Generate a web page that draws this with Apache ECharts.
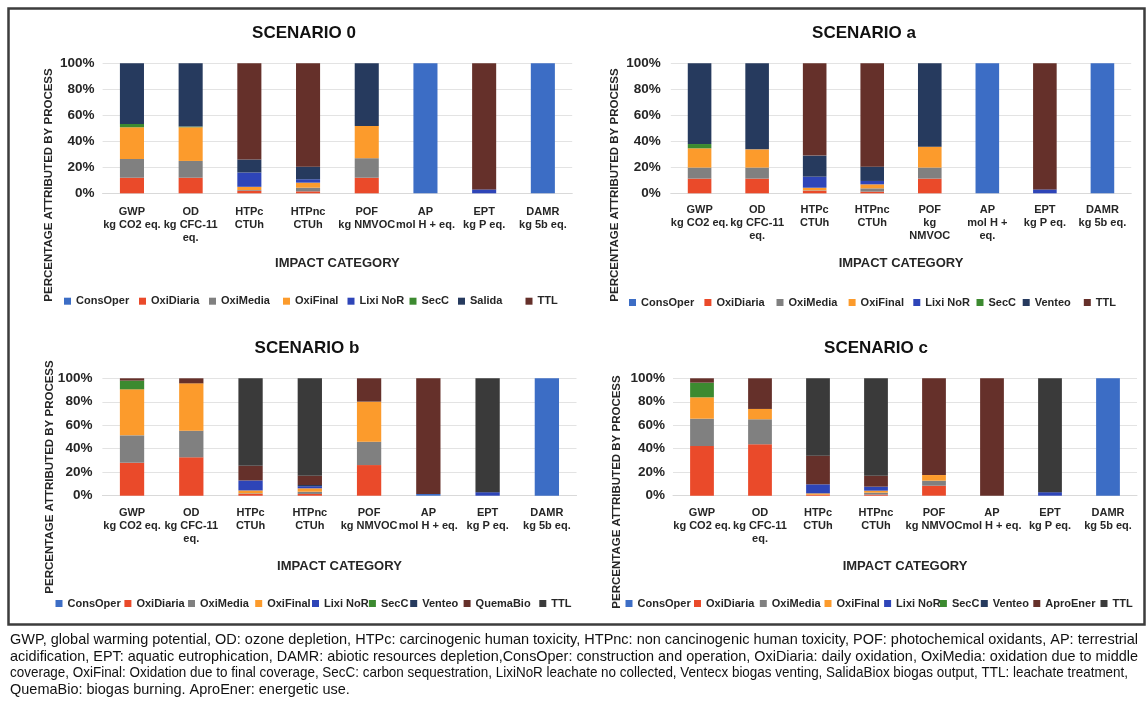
<!DOCTYPE html>
<html>
<head>
<meta charset="utf-8">
<script src="https://cdn.jsdelivr.net/npm/echarts@6.0.0/dist/echarts.min.js"></script>
<style>
  html, body { margin: 0; padding: 0; background: #ffffff; width: 1147px; height: 701px; overflow: hidden; }
  .layer { position: absolute; left: 0; top: 0; width: 1147px; height: 701px; }
</style>
</head>
<body>
<div id="chart0" class="layer"></div>
<div id="chartA" class="layer"></div>
<div id="chartB" class="layer"></div>
<div id="chartC" class="layer"></div>
<script>
// ---- Impact categories (x axis) ----
const CATEGORIES = ['GWP\nkg CO2 eq.', 'OD\nkg CFC-11\neq.', 'HTPc\nCTUh', 'HTPnc\nCTUh',
                    'POF\nkg NMVOC', 'AP\nmol H + eq.', 'EPT\nkg P eq.', 'DAMR\nkg 5b eq.'];
const CATEGORIES_WRAPPED = ['GWP\nkg CO2 eq.', 'OD\nkg CFC-11\neq.', 'HTPc\nCTUh', 'HTPnc\nCTUh',
                            'POF\nkg\nNMVOC', 'AP\nmol H +\neq.', 'EPT\nkg P eq.', 'DAMR\nkg 5b eq.'];
const Y_TICK_STEP = 20;

// ---- Scenario 0: share (%) attributed to each process, per category ----
const S0_CONSOPER  = [0, 0, 0, 0, 0, 100, 0, 100];
const S0_OXIDIARIA = [12, 12, 2, 1.5, 12, 0, 0, 0];
const S0_OXIMEDIA  = [14.4, 12.9, 0.5, 2.8, 15, 0, 0, 0];
const S0_OXIFINAL  = [24.4, 25.9, 2.5, 3.9, 24.8, 0, 0, 0];
const S0_LIXINOR   = [0, 0, 11, 2.6, 0, 0, 3, 0];
const S0_SECC      = [2.5, 0.5, 0, 0, 0, 0, 0, 0];
const S0_SALIDA    = [46.7, 48.7, 10, 9.7, 48.2, 0, 0, 0];
const S0_TTL       = [0, 0, 74, 79.5, 0, 0, 97, 0];

// ---- Scenario a ----
const SA_CONSOPER  = [0, 0, 0, 0, 0, 100, 0, 100];
const SA_OXIDIARIA = [11.3, 11.3, 2, 1.3, 11.3, 0, 0, 0];
const SA_OXIMEDIA  = [8.5, 8.5, 0.3, 2.5, 8.5, 0, 0, 0];
const SA_OXIFINAL  = [14.8, 14, 2, 3.1, 16.1, 0, 0, 0];
const SA_LIXINOR   = [0, 0, 8.5, 2.6, 0, 0, 3, 0];
const SA_SECC      = [3.3, 0, 0, 0, 0, 0, 0, 0];
const SA_VENTEO    = [62.1, 66.2, 16.2, 11, 64.1, 0, 0, 0];
const SA_TTL       = [0, 0, 71, 79.5, 0, 0, 97, 0];

// ---- Scenario b ----
const SB_CONSOPER  = [0, 0, 0, 0, 0, 1.5, 0, 100];
const SB_OXIDIARIA = [28.1, 32.7, 1.5, 1.5, 26.1, 0, 0, 0];
const SB_OXIMEDIA  = [23.3, 22.7, 0.5, 1.9, 19.9, 0, 0, 0];
const SB_OXIFINAL  = [39.2, 40.3, 2.5, 2.9, 34.1, 0, 0, 0];
const SB_LIXINOR   = [0, 0, 8.5, 1.8, 0, 0, 3, 0];
const SB_SECC      = [7.4, 0, 0, 0, 0, 0, 0, 0];
const SB_VENTEO    = [0, 0, 0, 1, 0, 0, 0, 0];
const SB_QUEMABIO  = [2, 4.3, 12.5, 7.9, 19.9, 98.5, 0, 0];
const SB_TTL       = [0, 0, 74.5, 83, 0, 0, 97, 0];

// ---- Scenario c ----
const SC_CONSOPER  = [0, 0, 0, 0, 0, 0, 0, 100];
const SC_OXIDIARIA = [42.3, 43.8, 0.8, 1, 8.5, 0, 0, 0];
const SC_OXIMEDIA  = [23.3, 21.3, 0, 1.6, 4.3, 0, 0, 0];
const SC_OXIFINAL  = [18.2, 8.8, 1.2, 1.7, 4.8, 0, 0, 0];
const SC_LIXINOR   = [0, 0, 7.7, 3.4, 0, 0, 3, 0];
const SC_SECC      = [12.5, 0, 0, 0, 0, 0, 0, 0];
const SC_VENTEO    = [0, 0, 0, 0, 0, 0, 0, 0];
const SC_APROENER  = [3.7, 26.1, 24.4, 9.3, 82.4, 100, 0, 0];
const SC_TTL       = [0, 0, 65.9, 83, 0, 0, 97, 0];

// ---- Caption under the figure ----
const CAPTION_LINES = [
  'GWP, global warming potential, OD: ozone depletion, HTPc: carcinogenic human toxicity, HTPnc: non cancinogenic human toxicity, POF: photochemical oxidants, AP: terrestrial',
  'acidification, EPT: aquatic eutrophication, DAMR: abiotic resources depletion,ConsOper: construction and operation, OxiDiaria: daily oxidation, OxiMedia: oxidation due to middle',
  'coverage, OxiFinal: Oxidation due to final coverage, SecC: carbon sequestration, LixiNoR leachate no collected, Ventecx biogas venting, SalidaBiox biogas output, TTL: leachate treatment,',
  'QuemaBio: biogas burning. AproEner: energetic use.'
];

// ---- Styling ----
const FONT = "'Liberation Sans', Arial, sans-serif";
const TEXT = '#262626';
const C = {
  consOper: '#3C6DC5', oxiDiaria: '#EA4A2A', oxiMedia: '#808080', oxiFinal: '#FC9B2C',
  lixi: '#2E45B8', secC: '#3C8A30', navy: '#263A5E', brown: '#65302A', dark: '#3A3A3A'
};

function series(name, data, color) {
  return {
    name: name, type: 'bar', stack: 'total', data: data, barWidth: '41%',
    itemStyle: { color: color }, emphasis: { disabled: true }, silent: true
  };
}

function panel(dom, p) {
  const chart = echarts.init(document.getElementById(dom), null, { renderer: 'canvas' });
  const legends = p.series.map(function (s, i) {
    return {
      left: p.legendX[i], top: p.legendY - 7, padding: 0, itemGap: 0,
      itemWidth: 7, itemHeight: 7, icon: 'rect', selectedMode: false,
      data: [s.name],
      textStyle: { fontFamily: FONT, fontSize: 11, fontWeight: 'bold', color: TEXT }
    };
  });
  const graphic = [
    { type: 'text', x: p.titleX, y: p.titleY, silent: true,
      style: { text: p.title, fontFamily: FONT, fontSize: 17, fontWeight: 'bold', fill: '#111',
               align: 'center', verticalAlign: 'middle' } },
    { type: 'text', x: p.yNameX, y: p.yNameY, rotation: Math.PI / 2, silent: true,
      style: { text: 'PERCENTAGE ATTRIBUTED BY PROCESS', fontFamily: FONT, fontSize: 11.5,
               fontWeight: 'bold', fill: TEXT, align: 'center', verticalAlign: 'middle' } }
  ].concat(p.extraGraphic || []);

  chart.setOption({
    animation: false,
    grid: { left: p.grid[0], top: p.grid[1], width: p.grid[2], height: p.grid[3], containLabel: false },
    xAxis: {
      type: 'category', data: p.categories,
      axisTick: { show: false },
      axisLine: { lineStyle: { color: '#d9d9d9', width: 1 } },
      axisLabel: { interval: 0, fontFamily: FONT, fontSize: 11, fontWeight: 'bold', color: TEXT,
                   lineHeight: 13, margin: p.xLabelMargin, hideOverlap: false },
      name: 'IMPACT CATEGORY', nameLocation: 'middle', nameGap: 64,
      nameTextStyle: { fontFamily: FONT, fontSize: 13, fontWeight: 'bold', color: TEXT }
    },
    yAxis: {
      type: 'value', min: 0, max: 100, interval: Y_TICK_STEP,
      axisLine: { show: false }, axisTick: { show: false },
      splitLine: { lineStyle: { color: '#e3e3e3', width: 1 } },
      axisLabel: { formatter: '{value}%', fontFamily: FONT, fontSize: 13.5, fontWeight: 'bold',
                   color: TEXT, margin: p.yLabelMargin }
    },
    legend: legends,
    graphic: graphic,
    series: p.series
  });
  return chart;
}

// Caption: justified paragraph in a tall, condensed face. Each full line is
// squeezed to the paragraph width; the last line keeps the first line's squeeze.
const CAPTION_SIZE = 15;
const CAPTION_LEFT = 10;
const CAPTION_WIDTHS = [1128, 1128, 1118, null];
const CAPTION_Y = [639.5, 656.5, 673, 689.5];
const measureCtx = document.createElement('canvas').getContext('2d');
measureCtx.font = CAPTION_SIZE + 'px ' + FONT;
const squeezes = CAPTION_LINES.map(function (line, i) {
  const w = measureCtx.measureText(line).width;
  return CAPTION_WIDTHS[i] ? CAPTION_WIDTHS[i] / w : null;
});
squeezes[3] = squeezes[0];

const captionGraphic = [
  { type: 'rect', silent: true, shape: { x: 8.5, y: 8.5, width: 1136, height: 616 },
    style: { fill: 'none', stroke: '#3d3d3d', lineWidth: 2.5 } }
].concat(CAPTION_LINES.map(function (line, i) {
  return { type: 'text', x: CAPTION_LEFT, y: CAPTION_Y[i], scaleX: squeezes[i], scaleY: 1,
           originX: 0, originY: 0, silent: true,
           style: { text: line, fontFamily: FONT, fontSize: CAPTION_SIZE, fill: '#111',
                    align: 'left', verticalAlign: 'middle' } };
}));

panel('chart0', {
  title: 'SCENARIO 0', titleX: 304, titleY: 33,
  yNameX: 49, yNameY: 185,
  grid: [102.6, 63.3, 469.6, 130],
  categories: CATEGORIES, xLabelMargin: 12, yLabelMargin: 8,
  legendY: 302.7, legendX: [64, 139, 209, 283, 347.5, 409.5, 458, 525.5],
  extraGraphic: captionGraphic,
  series: [
    series('ConsOper', S0_CONSOPER, C.consOper),
    series('OxiDiaria', S0_OXIDIARIA, C.oxiDiaria),
    series('OxiMedia', S0_OXIMEDIA, C.oxiMedia),
    series('OxiFinal', S0_OXIFINAL, C.oxiFinal),
    series('Lixi NoR', S0_LIXINOR, C.lixi),
    series('SecC', S0_SECC, C.secC),
    series('Salida', S0_SALIDA, C.navy),
    series('TTL', S0_TTL, C.brown)
  ]
});

panel('chartA', {
  title: 'SCENARIO a', titleX: 864, titleY: 33,
  yNameX: 615, yNameY: 185,
  grid: [670.8, 63.3, 460.4, 130],
  categories: CATEGORIES_WRAPPED, xLabelMargin: 10, yLabelMargin: 10,
  legendY: 304, legendX: [629, 704.4, 776.5, 848.6, 913.3, 976.5, 1022.7, 1083.8],
  series: [
    series('ConsOper', SA_CONSOPER, C.consOper),
    series('OxiDiaria', SA_OXIDIARIA, C.oxiDiaria),
    series('OxiMedia', SA_OXIMEDIA, C.oxiMedia),
    series('OxiFinal', SA_OXIFINAL, C.oxiFinal),
    series('Lixi NoR', SA_LIXINOR, C.lixi),
    series('SecC', SA_SECC, C.secC),
    series('Venteo', SA_VENTEO, C.navy),
    series('TTL', SA_TTL, C.brown)
  ]
});

panel('chartB', {
  title: 'SCENARIO b', titleX: 307, titleY: 348,
  yNameX: 50, yNameY: 477,
  grid: [102.4, 378.3, 474.1, 117.4],
  categories: CATEGORIES, xLabelMargin: 11, yLabelMargin: 10,
  legendY: 605, legendX: [55.5, 124.4, 188, 255.2, 312, 368.9, 410.2, 463.6, 539.3],
  series: [
    series('ConsOper', SB_CONSOPER, C.consOper),
    series('OxiDiaria', SB_OXIDIARIA, C.oxiDiaria),
    series('OxiMedia', SB_OXIMEDIA, C.oxiMedia),
    series('OxiFinal', SB_OXIFINAL, C.oxiFinal),
    series('Lixi NoR', SB_LIXINOR, C.lixi),
    series('SecC', SB_SECC, C.secC),
    series('Venteo', SB_VENTEO, C.navy),
    series('QuemaBio', SB_QUEMABIO, C.brown),
    series('TTL', SB_TTL, C.dark)
  ]
});

panel('chartC', {
  title: 'SCENARIO c', titleX: 876, titleY: 348,
  yNameX: 617, yNameY: 492,
  grid: [673, 378.3, 464, 117.4],
  categories: CATEGORIES, xLabelMargin: 11, yLabelMargin: 8,
  legendY: 605, legendX: [625.5, 694, 759.8, 824.5, 884.1, 939.9, 980.8, 1033.3, 1100.5],
  series: [
    series('ConsOper', SC_CONSOPER, C.consOper),
    series('OxiDiaria', SC_OXIDIARIA, C.oxiDiaria),
    series('OxiMedia', SC_OXIMEDIA, C.oxiMedia),
    series('OxiFinal', SC_OXIFINAL, C.oxiFinal),
    series('Lixi NoR', SC_LIXINOR, C.lixi),
    series('SecC', SC_SECC, C.secC),
    series('Venteo', SC_VENTEO, C.navy),
    series('AproEner', SC_APROENER, C.brown),
    series('TTL', SC_TTL, C.dark)
  ]
});
</script>
</body>
</html>
